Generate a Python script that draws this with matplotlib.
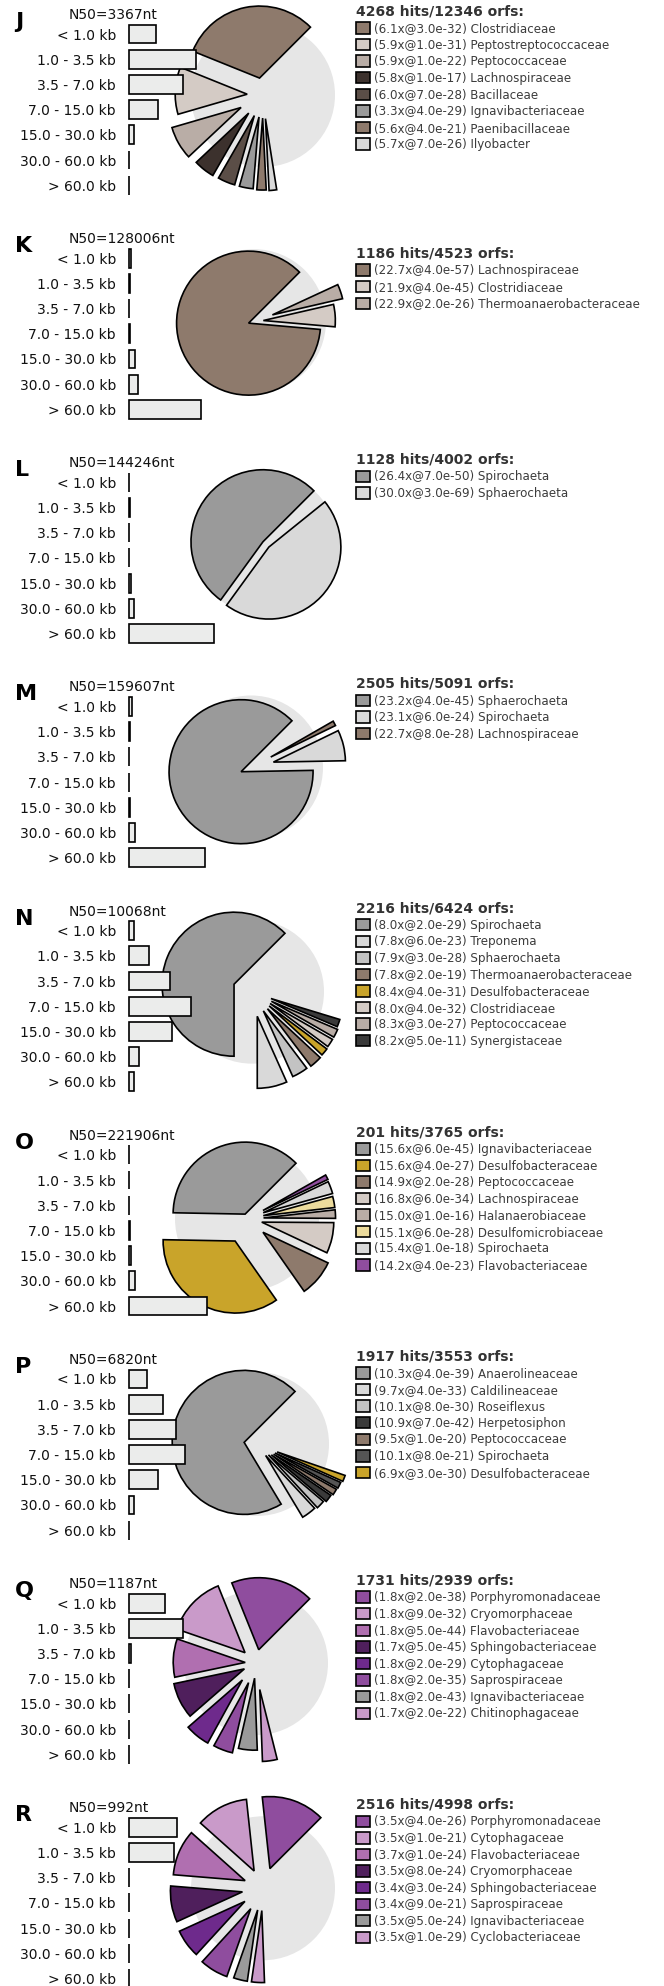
import numpy as np
import matplotlib.pyplot as plt
from matplotlib.patches import Patch, Circle

# ---- data -----------------------------------------------------------------
panels = ['J', 'K', 'L', 'M', 'N', 'O', 'P', 'Q', 'R']
n50 = [3367, 128006, 144246, 159607, 10068, 221906, 6820, 1187, 992]
hits = [4268, 1186, 1128, 2505, 2216, 201, 1917, 1731, 2516]
orfs = [12346, 4523, 4002, 5091, 6424, 3765, 3553, 2939, 4998]
size_bins = ['< 1.0 kb', '1.0 - 3.5 kb', '3.5 - 7.0 kb', '7.0 - 15.0 kb',
             '15.0 - 30.0 kb', '30.0 - 60.0 kb', '> 60.0 kb']

# assembled length per contig size bin (Mb)
J_len = [2.7, 6.7, 5.35, 2.9, 0.45, 0.0, 0.0]
K_len = [0.15, 0.1, 0.0, 0.1, 0.55, 0.9, 7.2]
L_len = [0.0, 0.05, 0.0, 0.0, 0.2, 0.45, 8.5]
M_len = [0.25, 0.05, 0.0, 0.0, 0.05, 0.6, 7.55]
N_len = [0.45, 1.95, 4.05, 6.15, 4.25, 1.0, 0.45]
O_len = [0.0, 0.0, 0.0, 0.1, 0.15, 0.6, 7.75]
P_len = [1.75, 3.35, 4.65, 5.55, 2.85, 0.45, 0.0]
Q_len = [3.55, 5.35, 0.2, 0.0, 0.0, 0.0, 0.0]
R_len = [4.75, 4.45, 0.0, 0.0, 0.0, 0.0, 0.0]

# best family hits: name, mean coverage, e-value, share of orfs (%)
J_fam = ['Clostridiaceae', 'Peptostreptococcaceae', 'Peptococcaceae', 'Lachnospiraceae',
         'Bacillaceae', 'Ignavibacteriaceae', 'Paenibacillaceae', 'Ilyobacter']
J_cov = [6.1, 5.9, 5.9, 5.8, 6.0, 3.3, 5.6, 5.7]
J_ev = [3.0e-32, 1.0e-31, 1.0e-22, 1.0e-17, 7.0e-28, 4.0e-29, 4.0e-21, 7.0e-26]
J_share = [31.4, 10.6, 7.5, 4.7, 3.9, 3.1, 2.1, 1.7]

K_fam = ['Lachnospiraceae', 'Clostridiaceae', 'Thermoanaerobacteraceae']
K_cov = [22.7, 21.9, 22.9]
K_ev = [4.0e-57, 4.0e-45, 2.0e-26]
K_share = [86.1, 5.0, 3.3]

L_fam = ['Spirochaeta', 'Sphaerochaeta']
L_cov = [26.4, 30.0]
L_ev = [7.0e-50, 3.0e-69]
L_share = [52.5, 45.8]

M_fam = ['Sphaerochaeta', 'Spirochaeta', 'Lachnospiraceae']
M_cov = [23.2, 23.1, 22.7]
M_ev = [4.0e-45, 6.0e-24, 8.0e-28]
M_share = [87.8, 6.9, 1.1]

N_fam = ['Spirochaeta', 'Treponema', 'Sphaerochaeta', 'Thermoanaerobacteraceae',
         'Desulfobacteraceae', 'Clostridiaceae', 'Peptococcaceae', 'Synergistaceae']
N_cov = [8.0, 7.8, 7.9, 7.8, 8.4, 8.0, 8.3, 8.2]
N_ev = [2.0e-29, 6.0e-23, 3.0e-28, 2.0e-19, 4.0e-31, 4.0e-32, 3.0e-27, 5.0e-11]
N_share = [62.5, 6.7, 3.6, 2.8, 1.7, 1.9, 1.9, 1.7]

O_fam = ['Ignavibacteriaceae', 'Desulfobacteraceae', 'Peptococcaceae', 'Lachnospiraceae',
         'Halanaerobiaceae', 'Desulfomicrobiaceae', 'Spirochaeta', 'Flavobacteriaceae']
O_cov = [15.6, 15.6, 14.9, 16.8, 15.0, 15.1, 15.4, 14.2]
O_ev = [6.0e-45, 4.0e-27, 2.0e-28, 6.0e-34, 1.0e-16, 6.0e-28, 1.0e-18, 4.0e-23]
O_share = [37.2, 35.0, 8.3, 6.9, 1.9, 2.5, 2.8, 1.1]

P_fam = ['Anaerolineaceae', 'Caldilineaceae', 'Roseiflexus', 'Herpetosiphon',
         'Peptococcaceae', 'Spirochaeta', 'Desulfobacteraceae']
P_cov = [10.3, 9.7, 10.1, 10.9, 9.5, 10.1, 6.9]
P_ev = [4.0e-39, 4.0e-33, 8.0e-30, 7.0e-42, 1.0e-20, 8.0e-21, 3.0e-30]
P_share = [71.1, 3.3, 1.9, 1.7, 1.4, 1.4, 1.4]

Q_fam = ['Porphyromonadaceae', 'Cryomorphaceae', 'Flavobacteriaceae', 'Sphingobacteriaceae',
         'Cytophagaceae', 'Saprospiraceae', 'Ignavibacteriaceae', 'Chitinophagaceae']
Q_cov = [1.8, 1.8, 1.8, 1.7, 1.8, 1.8, 1.8, 1.7]
Q_ev = [2.0e-38, 9.0e-32, 5.0e-44, 5.0e-45, 2.0e-29, 2.0e-35, 2.0e-43, 2.0e-22]
Q_share = [18.6, 13.6, 8.6, 8.1, 5.6, 4.4, 4.2, 3.3]

R_fam = ['Porphyromonadaceae', 'Cytophagaceae', 'Flavobacteriaceae', 'Cryomorphaceae',
         'Sphingobacteriaceae', 'Saprospiraceae', 'Ignavibacteriaceae', 'Cyclobacteriaceae']
R_cov = [3.5, 3.5, 3.7, 3.5, 3.4, 3.4, 3.5, 3.5]
R_ev = [4.0e-26, 1.0e-21, 1.0e-24, 8.0e-24, 3.0e-24, 9.0e-21, 5.0e-24, 1.0e-29]
R_share = [14.2, 11.7, 10.3, 8.1, 6.4, 6.4, 3.1, 2.9]

lengths = [J_len, K_len, L_len, M_len, N_len, O_len, P_len, Q_len, R_len]
families = [J_fam, K_fam, L_fam, M_fam, N_fam, O_fam, P_fam, Q_fam, R_fam]
coverage = [J_cov, K_cov, L_cov, M_cov, N_cov, O_cov, P_cov, Q_cov, R_cov]
evalues = [J_ev, K_ev, L_ev, M_ev, N_ev, O_ev, P_ev, Q_ev, R_ev]
shares = [J_share, K_share, L_share, M_share, N_share, O_share, P_share, Q_share, R_share]

# ---- styling ----------------------------------------------------------------
BROWN, TAUPE, DUST = '#8e7a6c', '#d4cbc5', '#b9ada6'
GREY, LGREY, MGREY = '#9a9a9a', '#d9d9d9', '#c3c3c3'
GOLD = '#c9a42a'
PURP, PINK, ORCH, DPURP, VIOL = '#8f4d9e', '#c99ac9', '#b06fb0', '#4f1f5c', '#6e2a8c'
colors = [
    [BROWN, TAUPE, DUST, '#3c312d', '#5b4e47', GREY, BROWN, LGREY],
    [BROWN, TAUPE, DUST],
    [GREY, LGREY],
    [GREY, LGREY, BROWN],
    [GREY, LGREY, MGREY, BROWN, GOLD, TAUPE, DUST, '#3a3a3a'],
    [GREY, GOLD, BROWN, TAUPE, DUST, '#ecdb9c', LGREY, PURP],
    [GREY, LGREY, MGREY, '#3a3a3a', BROWN, '#555555', GOLD],
    [PURP, PINK, ORCH, DPURP, VIOL, PURP, GREY, PINK],
    [PURP, PINK, ORCH, DPURP, VIOL, PURP, GREY, PINK],
]
explode = [
    [.24, .22, .35, .32, .31, .31, .32, .33],
    [.08, .13, .27],
    [.055, .055],
    [.15, .32, .31],
    [.27, .35, .31, .32, .31, .30, .30, .28],
    [.07, .35, .29, .21, .23, .23, .24, .25],
    [.18, .20, .22, .25, .27, .28, .30],
    [.19, .21, .15, .18, .30, .29, .21, .37],
    [.29, .27, .27, .29, .31, .33, .31, .31],
]
pie_x = [263, 254, 266, 251, 252, 247, 257, 256, 263]
pie_dy = [80, 82, 81, 80, 80, 83, 84, 79, 80]
legend_dy = [-2.5, 15.5, -2.5, -2.5, -2.5, -2.5, -2.5, -2.5, -2.5]

W, H = 664, 1986
PITCH = 224.16
RAD = 72.0
BAR_LEFT = 129
ROW = 25.2

fig = plt.figure(figsize=(W / 100, H / 100), dpi=100)
fig.patch.set_facecolor('white')


def px_axes(x, y, w, h):
    return fig.add_axes([x / W, 1 - (y + h) / H, w / W, h / H])


for i, tag in enumerate(panels):
    top = 15 + PITCH * i

    # pie of family shares over a grey disc
    S = 250
    cx, cy = pie_x[i], top + pie_dy[i]
    ax = px_axes(cx - S / 2, cy - S / 2, S, S)
    ax.add_patch(Circle((0, 0), 1, facecolor='#e6e6e6', edgecolor='none'))
    ax.pie(np.array(shares[i]) / 100.0, explode=explode[i], colors=colors[i],
           startangle=45, counterclock=True, normalize=False,
           wedgeprops=dict(edgecolor='black', linewidth=1.2))
    lim = S / 2 / RAD
    ax.set_xlim(-lim, lim)
    ax.set_ylim(-lim, lim)
    ax.set_axis_off()

    # contig length histogram
    axb = px_axes(BAR_LEFT, top + 19 - ROW / 2, 300, ROW * 7)
    bars = axb.barh(range(7), lengths[i], height=0.75, color='#ebeceb',
                    edgecolor='black', linewidth=1.2)
    for b in bars:
        b.set_clip_on(False)
    axb.set_xlim(0, 30)
    axb.set_ylim(6.5, -0.5)
    axb.set_yticks(range(7), size_bins)
    axb.set_xticks([])
    axb.tick_params(axis='y', length=0, pad=9.4, labelsize=10, labelcolor='#111111')
    for sp in axb.spines.values():
        sp.set_visible(False)
    axb.patch.set_alpha(0)

    fig.text(15 / W, 1 - (top + 7) / H, tag, fontsize=16, fontweight='bold',
             va='center', ha='left')
    fig.text(69 / W, 1 - top / H, f'N50={n50[i]}nt', fontsize=10,
             va='center', ha='left', color='#111111')

    handles = [Patch(facecolor=c, edgecolor='black', linewidth=1.2) for c in colors[i]]
    labels = [f'({c:.1f}x@{e:.1e}) {f}' for f, c, e in zip(families[i], coverage[i], evalues[i])]
    leg = fig.legend(handles, labels, loc='upper left',
                     bbox_to_anchor=(356 / W, 1 - (top + legend_dy[i] - 8) / H),
                     frameon=False, borderpad=0, borderaxespad=0,
                     title=f'{hits[i]} hits/{orfs[i]} orfs:', alignment='left',
                     title_fontproperties={'weight': 'bold', 'size': 10},
                     fontsize=8.6, labelcolor='#3c3c3c',
                     handlelength=1.17, handleheight=1.09, handletextpad=0.36,
                     labelspacing=0.30)
    leg.get_title().set_color('#333333')

fig.savefig('out.png', dpi=100)
